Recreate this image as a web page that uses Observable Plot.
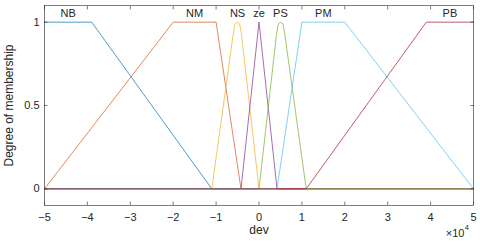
<!DOCTYPE html>
<html>
<head>
<meta charset="utf-8">
<script src="https://cdn.jsdelivr.net/npm/d3@7"></script>
<script src="https://cdn.jsdelivr.net/npm/@observablehq/plot@0.6"></script>
<style>
  html, body { margin: 0; padding: 0; background: #fff; }
  #chart svg { display: block; }
</style>
</head>
<body>
<div id="chart"></div>
<script>
// x values in units of 10^4 (dev)
const mfNames = ["NB", "NM", "NS", "ze", "PS", "PM", "PB"];
const mfColors = ["#0072BD", "#D95319", "#EDB120", "#7E2F8E", "#77AC30", "#4DBEEE", "#A2142F"];

const nbX = [-5, -3.9, -1.1, 5];
const nbY = [1, 1, 0, 0];
const nmX = [-5, -2, -1, -0.42, 5];
const nmY = [0, 1, 1, 0, 0];
const nsX = [-5, -1.1, -0.6, -0.56, -0.5, -0.45, -0.41, 0, 5];
const nsY = [0, 0, 0.93, 0.99, 1, 0.99, 0.93, 0, 0];
const zeX = [-5, -0.42, 0, 0.42, 5];
const zeY = [0, 0, 1, 0, 0];
const psX = [-5, 0, 0.41, 0.45, 0.5, 0.56, 0.6, 1.1, 5];
const psY = [0, 0, 0.93, 0.99, 1, 0.99, 0.93, 0, 0];
const pmX = [-5, 0.42, 1, 2, 5];
const pmY = [0, 0, 1, 1, 0];
const pbX = [-5, 1.1, 3.9, 5];
const pbY = [0, 0, 1, 1];

const labelX = [-4.45, -1.5, -0.5, 0, 0.5, 1.5, 4.45];
const labelY = [1.05, 1.05, 1.05, 1.05, 1.05, 1.05, 1.05];

const xTicks = [-5, -4, -3, -2, -1, 0, 1, 2, 3, 4, 5];
const yTicks = [0, 0.5, 1];
const yTickLabels = ["0", "0.5", "1"];

const xLabel = "dev";
const yLabel = "Degree of membership";
const expText = "\u00d710";
const expPow = "4";

const seriesX = [nbX, nmX, nsX, zeX, psX, pmX, pbX];
const seriesY = [nbY, nmY, nsY, zeY, psY, pmY, pbY];
const rows = [];
mfNames.forEach((name, k) => {
  seriesX[k].forEach((x, i) => rows.push({name, x, y: seriesY[k][i]}));
});
const labels = mfNames.map((name, i) => ({name, x: labelX[i], y: labelY[i]}));

const axisColor = "#262626";
const tick = -3.5;

const chart = Plot.plot({
  width: 480,
  height: 243,
  marginLeft: 44,
  marginRight: 7,
  marginTop: 5,
  marginBottom: 38,
  style: {fontFamily: "'Liberation Sans', Arial, sans-serif", fontSize: "11px", color: axisColor, background: "#fff"},
  x: {domain: [-5, 5], label: null},
  y: {domain: [-0.1, 1.1], label: null},
  color: {domain: mfNames, range: mfColors},
  marks: [
    Plot.line(rows, {x: "x", y: "y", z: "name", stroke: "name", strokeWidth: 1, strokeOpacity: 0.7}),
    Plot.frame({stroke: axisColor, strokeWidth: 0.6}),
    Plot.axisX({anchor: "bottom", ticks: xTicks, tickSize: tick, tickPadding: 11, label: null, stroke: axisColor, strokeWidth: 0.6, fill: axisColor}),
    Plot.axisX({anchor: "top", ticks: xTicks, tickSize: tick, tickFormat: () => "", label: null, stroke: axisColor, strokeWidth: 0.6}),
    Plot.axisY({anchor: "left", ticks: yTicks, tickSize: tick, tickPadding: 8.5, tickFormat: (d) => yTickLabels[yTicks.indexOf(d)], label: null, stroke: axisColor, strokeWidth: 0.6, fill: axisColor}),
    Plot.axisY({anchor: "right", ticks: yTicks, tickSize: tick, tickFormat: () => "", label: null, stroke: axisColor, strokeWidth: 0.6}),
    Plot.text(labels, {x: "x", y: "y", text: "name", fontSize: 11, fill: axisColor, lineAnchor: "middle"}),
    Plot.text([xLabel], {frameAnchor: "bottom", textAnchor: "middle", dy: 28, fontSize: 12, fill: axisColor}),
    Plot.text([yLabel], {frameAnchor: "left", textAnchor: "middle", rotate: -90, dx: -35, fontSize: 12, fill: axisColor}),
    Plot.text([expText], {frameAnchor: "bottom-right", textAnchor: "end", dx: -9, dy: 31, fontSize: 11, fill: axisColor}),
    Plot.text([expPow], {frameAnchor: "bottom-right", textAnchor: "end", dx: -4.5, dy: 24, fontSize: 7.5, fill: axisColor})
  ]
});
document.getElementById("chart").appendChild(chart);
</script>
</body>
</html>
